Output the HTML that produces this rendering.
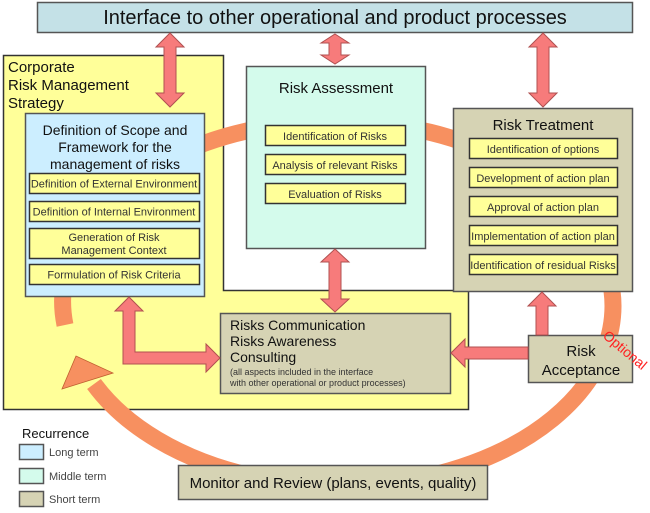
<!DOCTYPE html>
<html><head><meta charset="utf-8"><style>
html,body{margin:0;padding:0;background:#fff;}
svg{display:block;font-family:"Liberation Sans",sans-serif;}
</style></head><body>
<svg width="650" height="513" viewBox="0 0 650 513" xmlns="http://www.w3.org/2000/svg">
<defs>
<style>
.box{stroke:#555;stroke-width:1.5}
.yb{fill:#ffff99;stroke:#333;stroke-width:1.5}
.pa{fill:#f77b7b;stroke:#b05050;stroke-width:1}
.t11{font-size:11px;fill:#333;text-anchor:middle}
</style>
</defs>
<!-- Banner -->
<rect x="37.5" y="2.5" width="595" height="30" fill="#c4e1e7" class="box"/>
<text x="335" y="24" font-size="20" text-anchor="middle" fill="#111">Interface to other operational and product processes</text>

<!-- Corporate yellow -->
<polygon points="3.5,55.5 223.5,55.5 223.5,290.5 468.5,290.5 468.5,409.5 3.5,409.5" fill="#ffff99" stroke="#333" stroke-width="1.5"/>
<text x="8" y="72" font-size="15" fill="#111">Corporate</text>
<text x="8" y="90" font-size="15" fill="#111">Risk Management</text>
<text x="8" y="108" font-size="15" fill="#111">Strategy</text>

<!-- Orange ring -->
<path d="M94,384 A273 180 0 1 0 571,210 A273 180 0 0 0 65,325" fill="none" stroke="#f79060" stroke-width="17"/>
<polygon points="76,356 62,389 113,373" fill="#f79060" stroke="#c06030" stroke-width="0.8"/>

<!-- Definition box -->
<rect x="25.5" y="113.5" width="179" height="183" fill="#cceeff" class="box"/>
<text x="115" y="135" font-size="14" text-anchor="middle" fill="#111">Definition of Scope and</text>
<text x="115" y="152" font-size="14" text-anchor="middle" fill="#111">Framework for the</text>
<text x="115" y="169" font-size="14" text-anchor="middle" fill="#111">management of risks</text>
<rect x="29.5" y="173.5" width="170" height="20" class="yb"/>
<text x="114" y="187.5" class="t11">Definition of External Environment</text>
<rect x="29.5" y="201.5" width="170" height="20" class="yb"/>
<text x="114" y="215.5" class="t11">Definition of Internal Environment</text>
<rect x="29.5" y="228.5" width="170" height="30" class="yb"/>
<text x="114" y="241" class="t11">Generation of Risk</text>
<text x="114" y="254" class="t11">Management Context</text>
<rect x="29.5" y="264.5" width="170" height="20" class="yb"/>
<text x="114" y="278.5" class="t11">Formulation of Risk Criteria</text>

<!-- Risk Assessment -->
<rect x="246.5" y="66.5" width="179" height="182" fill="#d4fbec" class="box"/>
<text x="336" y="93" font-size="15" text-anchor="middle" fill="#111">Risk Assessment</text>
<rect x="265.5" y="125.5" width="140" height="20" class="yb"/>
<text x="335" y="140" class="t11">Identification of Risks</text>
<rect x="265.5" y="154.5" width="140" height="20" class="yb"/>
<text x="335" y="169" class="t11">Analysis of relevant Risks</text>
<rect x="265.5" y="183.5" width="140" height="20" class="yb"/>
<text x="335" y="198" class="t11">Evaluation of Risks</text>

<!-- Risk Treatment -->
<rect x="453.5" y="108.5" width="179" height="183" fill="#d6d3b4" class="box"/>
<text x="543" y="130" font-size="15" text-anchor="middle" fill="#111">Risk Treatment</text>
<rect x="469.5" y="138.5" width="148" height="20" class="yb"/>
<text x="543" y="153" class="t11">Identification of options</text>
<rect x="469.5" y="167.5" width="148" height="20" class="yb"/>
<text x="543" y="182" class="t11">Development of action plan</text>
<rect x="469.5" y="196.5" width="148" height="20" class="yb"/>
<text x="543" y="211" class="t11">Approval of action plan</text>
<rect x="469.5" y="225.5" width="148" height="20" class="yb"/>
<text x="543" y="240" class="t11">Implementation of action plan</text>
<rect x="469.5" y="254.5" width="148" height="20" class="yb"/>
<text x="543" y="269" class="t11">Identification of residual Risks</text>

<!-- Communication -->
<rect x="220.5" y="313.5" width="230" height="80" fill="#d6d3b4" class="box"/>
<text x="230" y="330" font-size="14" fill="#111">Risks Communication</text>
<text x="230" y="346" font-size="14" fill="#111">Risks Awareness</text>
<text x="230" y="362" font-size="14" fill="#111">Consulting</text>
<text x="230" y="375" font-size="9" fill="#333">(all aspects included in the interface</text>
<text x="230" y="386" font-size="9" fill="#333">with other operational or product processes)</text>

<!-- Risk Acceptance -->
<rect x="528.5" y="335.5" width="104" height="47" fill="#d6d3b4" class="box"/>
<text x="581" y="356" font-size="15" text-anchor="middle" fill="#111">Risk</text>
<text x="581" y="375" font-size="15" text-anchor="middle" fill="#111">Acceptance</text>
<text x="0" y="0" font-size="14" fill="#ff2020" transform="translate(602,337) rotate(40)">Optional</text>

<!-- Monitor -->
<rect x="178.5" y="465.5" width="309" height="34" fill="#d6d3b4" class="box"/>
<text x="333" y="488" font-size="15" text-anchor="middle" fill="#111">Monitor and Review (plans, events, quality)</text>

<!-- Legend -->
<text x="22" y="438" font-size="13" fill="#111">Recurrence</text>
<rect x="19.5" y="444.5" width="24" height="15" fill="#cceeff" class="box"/>
<text x="49" y="456" font-size="11" fill="#444">Long term</text>
<rect x="19.5" y="468.5" width="24" height="15" fill="#d4fbec" class="box"/>
<text x="49" y="480" font-size="11" fill="#444">Middle term</text>
<rect x="19.5" y="491.5" width="24" height="15" fill="#d6d3b4" class="box"/>
<text x="49" y="503" font-size="11" fill="#444">Short term</text>

<!-- Pink arrows -->
<polygon class="pa" points="170,33 184,47 176,47 176,93 184,93 170,107 156,93 164,93 164,47 156,47"/>
<polygon class="pa" points="335,34 349,43 341,43 341,55 349,55 335,64 321,55 329,55 329,43 321,43"/>
<polygon class="pa" points="543,33 557,47 549,47 549,93 557,93 543,107 529,93 537,93 537,47 529,47"/>
<polygon class="pa" points="335,249 349,262 341,262 341,299 349,299 335,312 321,299 329,299 329,262 321,262"/>
<polygon class="pa" points="129,297 143,311 135,311 135,352 206,352 206,344 220,358 206,372 206,364 123,364 123,311 115,311"/>
<polygon class="pa" points="542,292 556,306 548,306 548,335 536,335 536,306 528,306"/>
<polygon class="pa" points="451,353 465,339 465,347 528,347 528,359 465,359 465,367"/>
</svg>
</body></html>
